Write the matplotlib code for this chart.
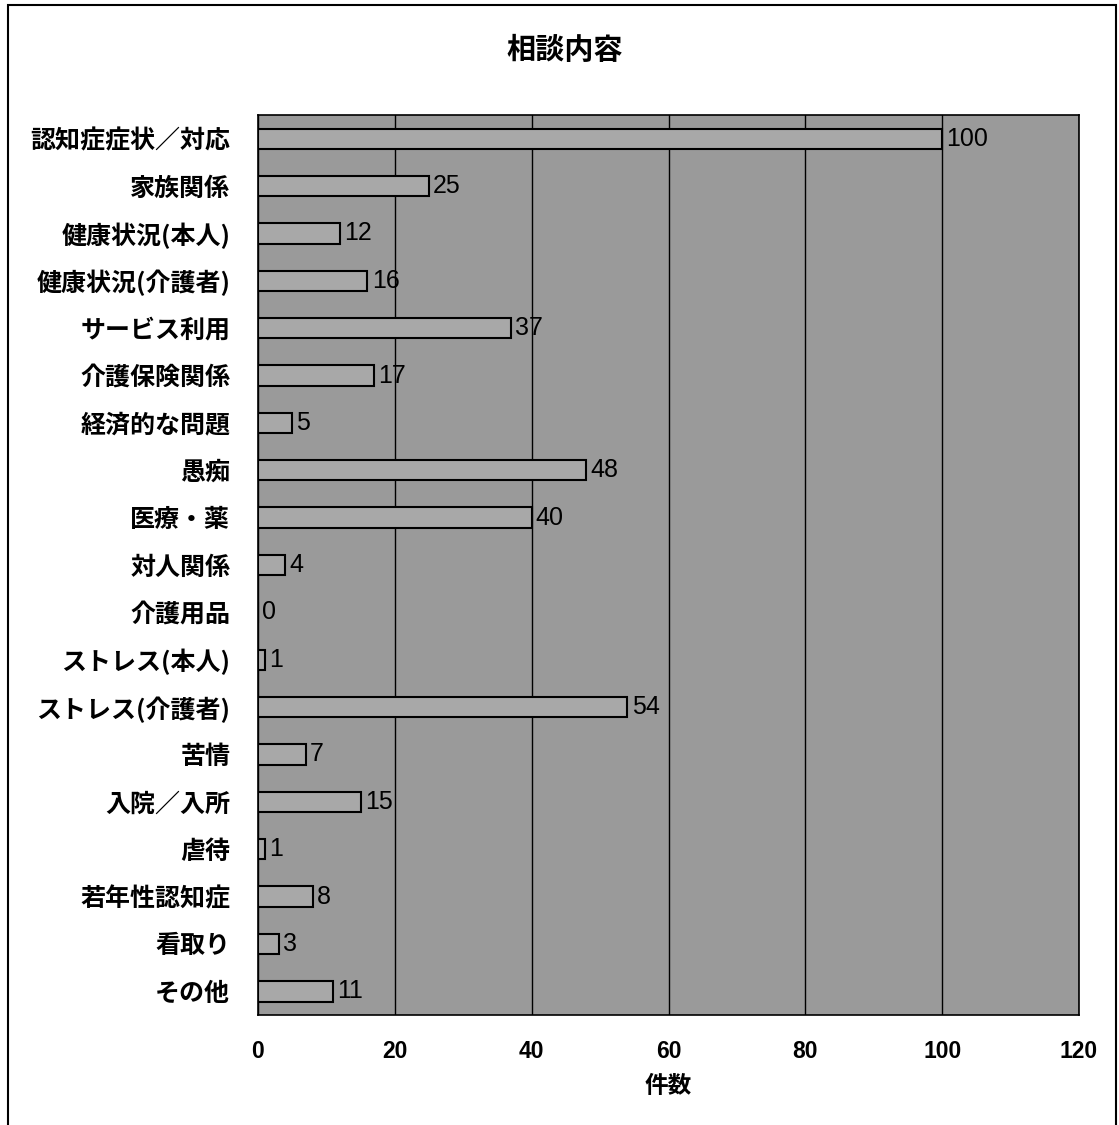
import matplotlib
matplotlib.use("Agg")
import matplotlib.pyplot as plt
from matplotlib.patches import Rectangle

plt.rcParams['font.family'] = ['Noto Sans CJK JP', 'DejaVu Sans']

categories = ["認知症症状／対応", "家族関係", "健康状況(本人)", "健康状況(介護者)", "サービス利用",
              "介護保険関係", "経済的な問題", "愚痴", "医療・薬", "対人関係", "介護用品",
              "ストレス(本人)", "ストレス(介護者)", "苦情", "入院／入所", "虐待",
              "若年性認知症", "看取り", "その他"]
values = [100, 25, 12, 16, 37, 17, 5, 48, 40, 4, 0, 1, 54, 7, 15, 1, 8, 3, 11]
xticks = [0, 20, 40, 60, 80, 100, 120]

W, H = 1119, 1125
fig = plt.figure(figsize=(W / 100, H / 100), dpi=100)
fig.patch.set_facecolor('white')

# outer frame
fig.patches.append(Rectangle((8 / W, -0.01), (1116 - 8) / W, (1125 - 5) / H + 0.01,
                             transform=fig.transFigure, fill=False,
                             edgecolor='black', linewidth=1.5))

ax = fig.add_axes([258 / W, 1 - 1015 / H, (1079 - 258) / W, (1015 - 115) / H])
ax.set_facecolor('#9a9a9a')

ypos = list(range(len(categories)))
ax.barh(ypos, values, height=0.43, color='#a8a8a8', edgecolor='black', linewidth=1.5, zorder=3)
ax.set_xlim(0, 120)
ax.set_ylim(len(categories) - 0.5, -0.5)
ax.set_xticks(xticks)
ax.set_xticklabels([str(t) for t in xticks], fontfamily='Liberation Sans',
                   fontweight='bold', fontsize=16.5)
ax.set_yticks(ypos)
ax.set_yticklabels(categories, fontsize=18, fontweight='bold')
ax.tick_params(axis='y', length=0, pad=20)
ax.tick_params(axis='x', length=0, pad=18)
ax.grid(axis='x', color='black', linewidth=1.0, zorder=1)
ax.set_axisbelow(True)
for s in ax.spines.values():
    s.set_color('black')
    s.set_linewidth(1.2)

for y, v in zip(ypos, values):
    ax.annotate(str(v), (v, y), xytext=(3, 0), textcoords='offset points',
                va='center', ha='left', fontsize=18, fontfamily='Liberation Sans',
                zorder=4)

ax.set_xlabel("件数", fontsize=17, fontweight='bold', labelpad=8)
fig.text(565 / W, 1 - 50 / H, "相談内容", ha='center', va='center', fontsize=21, fontweight='bold')

fig.savefig("out.png", dpi=100, facecolor='white')
